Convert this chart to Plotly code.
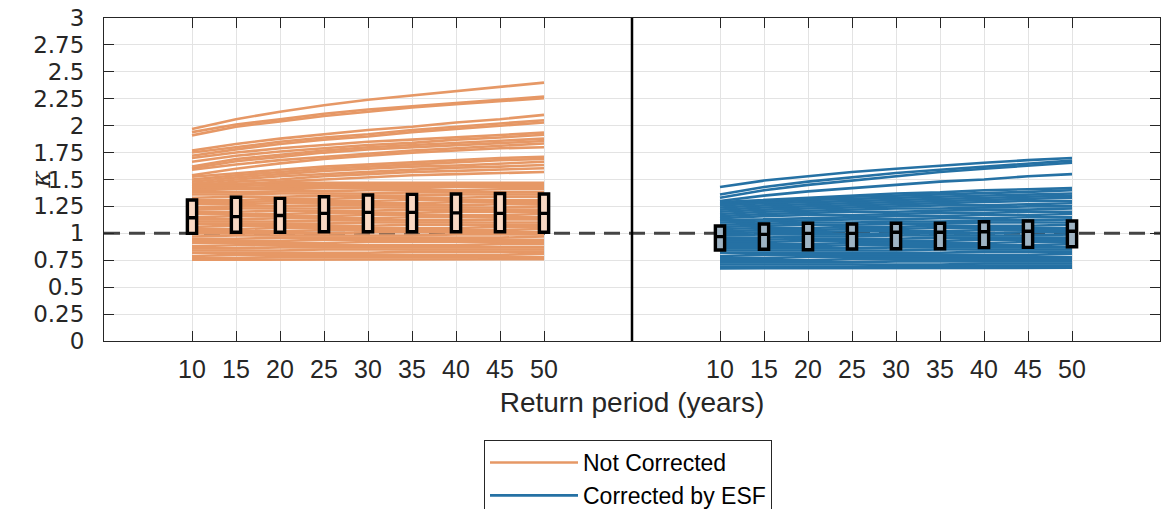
import plotly.graph_objects as go

# ---------------- data ----------------
return_periods = [10, 15, 20, 25, 30, 35, 40, 45, 50]
tick_labels = ["10", "15", "20", "25", "30", "35", "40", "45", "50"]

# Not corrected: kappa curves (one list per site)
nc_curves = [
    [1.97, 2.06, 2.13, 2.19, 2.24, 2.28, 2.32, 2.36, 2.40],
    [1.94, 2.01, 2.06, 2.11, 2.15, 2.18, 2.21, 2.24, 2.27],
    [1.91, 1.99, 2.04, 2.09, 2.13, 2.17, 2.20, 2.23, 2.255],
    [1.77, 1.83, 1.88, 1.92, 1.96, 1.99, 2.03, 2.06, 2.10],
    [1.75, 1.80, 1.85, 1.89, 1.92, 1.96, 1.99, 2.02, 2.05],
    [1.72, 1.78, 1.83, 1.87, 1.90, 1.94, 1.97, 2.00, 2.03],
    [1.70, 1.75, 1.79, 1.82, 1.85, 1.87, 1.89, 1.91, 1.935],
    [1.665, 1.72, 1.76, 1.79, 1.82, 1.84, 1.87, 1.89, 1.915],
    [1.62, 1.69, 1.73, 1.77, 1.80, 1.82, 1.84, 1.86, 1.88],
    [1.605, 1.67, 1.71, 1.75, 1.78, 1.80, 1.82, 1.84, 1.857],
    [1.59, 1.64, 1.68, 1.71, 1.74, 1.77, 1.79, 1.81, 1.835],
    [1.54, 1.60, 1.65, 1.69, 1.72, 1.75, 1.77, 1.79, 1.80],
    [1.525, 1.56, 1.59, 1.62, 1.64, 1.66, 1.68, 1.70, 1.71],
    [1.50, 1.54, 1.57, 1.60, 1.62, 1.64, 1.66, 1.68, 1.69],
    [1.48, 1.52, 1.55, 1.58, 1.60, 1.62, 1.63, 1.65, 1.665],
    [1.46, 1.50, 1.53, 1.55, 1.57, 1.59, 1.61, 1.62, 1.635],
    [1.44, 1.48, 1.50, 1.53, 1.55, 1.57, 1.58, 1.59, 1.605],
    [1.42, 1.45, 1.48, 1.50, 1.52, 1.54, 1.55, 1.56, 1.57],
    [1.46, 1.46, 1.47, 1.47, 1.47, 1.47, 1.47, 1.47, 1.47],
    [1.44, 1.44, 1.45, 1.45, 1.45, 1.46, 1.46, 1.46, 1.46],
    [1.42, 1.42, 1.43, 1.43, 1.44, 1.44, 1.44, 1.45, 1.45],
    [1.40, 1.41, 1.41, 1.42, 1.42, 1.42, 1.43, 1.43, 1.43],
    [1.38, 1.38, 1.39, 1.39, 1.40, 1.40, 1.40, 1.41, 1.41],
    [1.36, 1.36, 1.37, 1.37, 1.37, 1.38, 1.38, 1.38, 1.38],
    [1.33, 1.34, 1.34, 1.35, 1.35, 1.35, 1.36, 1.36, 1.36],
    [1.31, 1.31, 1.32, 1.32, 1.33, 1.33, 1.33, 1.34, 1.34],
    [1.29, 1.29, 1.30, 1.30, 1.30, 1.31, 1.31, 1.31, 1.31],
    [1.27, 1.27, 1.28, 1.28, 1.28, 1.28, 1.29, 1.29, 1.29],
    [1.24, 1.25, 1.25, 1.26, 1.26, 1.26, 1.26, 1.27, 1.27],
    [1.22, 1.23, 1.23, 1.23, 1.24, 1.24, 1.24, 1.24, 1.25],
    [1.20, 1.20, 1.21, 1.21, 1.21, 1.22, 1.22, 1.22, 1.22],
    [1.18, 1.18, 1.18, 1.19, 1.19, 1.19, 1.20, 1.20, 1.20],
    [1.15, 1.16, 1.16, 1.16, 1.17, 1.17, 1.17, 1.17, 1.18],
    [1.13, 1.13, 1.14, 1.14, 1.14, 1.15, 1.15, 1.15, 1.15],
    [1.11, 1.11, 1.11, 1.12, 1.12, 1.12, 1.12, 1.13, 1.13],
    [1.09, 1.09, 1.09, 1.09, 1.10, 1.10, 1.10, 1.10, 1.10],
    [1.06, 1.07, 1.07, 1.07, 1.07, 1.08, 1.08, 1.08, 1.08],
    [1.04, 1.04, 1.05, 1.05, 1.05, 1.05, 1.05, 1.06, 1.06],
    [1.02, 1.02, 1.02, 1.03, 1.03, 1.03, 1.03, 1.03, 1.04],
    [1.00, 1.00, 1.00, 1.00, 1.01, 1.01, 1.01, 1.01, 1.01],
    [0.97, 0.98, 0.98, 0.98, 0.98, 0.98, 0.99, 0.99, 0.99],
    [0.95, 0.95, 0.96, 0.96, 0.96, 0.96, 0.96, 0.96, 0.97],
    [0.93, 0.93, 0.93, 0.94, 0.94, 0.94, 0.94, 0.94, 0.94],
    [0.91, 0.91, 0.91, 0.91, 0.92, 0.92, 0.92, 0.92, 0.92],
    [0.88, 0.89, 0.89, 0.89, 0.89, 0.89, 0.89, 0.90, 0.90],
    [0.86, 0.86, 0.87, 0.87, 0.87, 0.87, 0.87, 0.87, 0.87],
    [0.84, 0.84, 0.84, 0.85, 0.85, 0.85, 0.85, 0.85, 0.85],
    [0.82, 0.82, 0.82, 0.82, 0.82, 0.83, 0.83, 0.83, 0.83],
    [0.79, 0.80, 0.80, 0.80, 0.80, 0.80, 0.80, 0.80, 0.81],
    [0.77, 0.77, 0.78, 0.78, 0.78, 0.78, 0.78, 0.78, 0.78],
    [0.755, 0.755, 0.755, 0.76, 0.76, 0.76, 0.76, 0.76, 0.76],
]

# Corrected by ESF: kappa curves
esf_curves = [
    [1.43, 1.49, 1.53, 1.57, 1.60, 1.63, 1.655, 1.68, 1.70],
    [1.36, 1.43, 1.48, 1.52, 1.56, 1.59, 1.62, 1.65, 1.675],
    [1.33, 1.40, 1.45, 1.49, 1.53, 1.57, 1.60, 1.63, 1.656],
    [1.30, 1.35, 1.39, 1.42, 1.45, 1.48, 1.50, 1.53, 1.55],
    [1.29, 1.31, 1.33, 1.35, 1.37, 1.38, 1.40, 1.41, 1.42],
    [1.28, 1.30, 1.32, 1.34, 1.35, 1.36, 1.37, 1.385, 1.40],
    [1.27, 1.29, 1.31, 1.32, 1.33, 1.34, 1.35, 1.36, 1.37],
    [1.26, 1.28, 1.29, 1.30, 1.31, 1.32, 1.33, 1.34, 1.35],
    [1.24, 1.26, 1.27, 1.28, 1.29, 1.30, 1.31, 1.32, 1.33],
    [1.22, 1.24, 1.25, 1.26, 1.27, 1.28, 1.29, 1.30, 1.30],
    [1.20, 1.22, 1.23, 1.24, 1.25, 1.26, 1.26, 1.27, 1.28],
    [1.18, 1.20, 1.21, 1.22, 1.23, 1.23, 1.24, 1.25, 1.25],
    [1.16, 1.18, 1.19, 1.20, 1.20, 1.21, 1.22, 1.22, 1.23],
    [1.14, 1.16, 1.17, 1.17, 1.18, 1.19, 1.19, 1.20, 1.20],
    [1.12, 1.13, 1.14, 1.15, 1.16, 1.16, 1.17, 1.17, 1.18],
    [1.10, 1.11, 1.12, 1.13, 1.13, 1.14, 1.14, 1.15, 1.15],
    [1.08, 1.09, 1.10, 1.10, 1.11, 1.11, 1.12, 1.12, 1.13],
    [1.06, 1.07, 1.08, 1.08, 1.09, 1.09, 1.10, 1.10, 1.10],
    [1.04, 1.05, 1.05, 1.06, 1.06, 1.07, 1.07, 1.07, 1.08],
    [1.02, 1.03, 1.03, 1.04, 1.04, 1.05, 1.05, 1.05, 1.05],
    [1.00, 1.01, 1.01, 1.02, 1.02, 1.02, 1.03, 1.03, 1.03],
    [0.98, 0.99, 0.99, 0.99, 1.00, 1.00, 1.00, 1.01, 1.01],
    [0.96, 0.96, 0.97, 0.97, 0.98, 0.98, 0.98, 0.98, 0.99],
    [0.94, 0.94, 0.95, 0.95, 0.95, 0.96, 0.96, 0.96, 0.96],
    [0.92, 0.92, 0.93, 0.93, 0.93, 0.93, 0.94, 0.94, 0.94],
    [0.90, 0.90, 0.90, 0.91, 0.91, 0.91, 0.91, 0.92, 0.92],
    [0.88, 0.88, 0.88, 0.89, 0.89, 0.89, 0.89, 0.89, 0.90],
    [0.86, 0.86, 0.86, 0.86, 0.87, 0.87, 0.87, 0.87, 0.87],
    [0.84, 0.84, 0.84, 0.84, 0.84, 0.85, 0.85, 0.85, 0.85],
    [0.82, 0.82, 0.82, 0.82, 0.82, 0.82, 0.83, 0.83, 0.83],
    [0.79, 0.80, 0.80, 0.80, 0.80, 0.80, 0.80, 0.80, 0.81],
    [0.77, 0.77, 0.78, 0.78, 0.78, 0.78, 0.78, 0.78, 0.78],
    [0.75, 0.75, 0.75, 0.76, 0.76, 0.76, 0.76, 0.76, 0.76],
    [0.73, 0.73, 0.73, 0.73, 0.74, 0.74, 0.74, 0.74, 0.74],
    [0.71, 0.71, 0.71, 0.71, 0.71, 0.71, 0.72, 0.72, 0.72],
    [0.69, 0.69, 0.69, 0.69, 0.70, 0.70, 0.70, 0.70, 0.70],
    [0.675, 0.675, 0.675, 0.675, 0.68, 0.68, 0.68, 0.68, 0.68],
]

# box statistics (q1, median, q3) per return period
nc_q1 = [1.00, 1.01, 1.01, 1.015, 1.015, 1.015, 1.015, 1.015, 1.01]
nc_med = [1.145, 1.155, 1.165, 1.185, 1.195, 1.195, 1.19, 1.185, 1.185]
nc_q3 = [1.31, 1.335, 1.325, 1.34, 1.356, 1.362, 1.365, 1.37, 1.365]

esf_q1 = [0.845, 0.852, 0.848, 0.855, 0.857, 0.857, 0.867, 0.87, 0.876]
esf_med = [0.969, 0.99, 1.0, 1.0, 1.01, 1.01, 1.015, 1.02, 1.02]
esf_q3 = [1.068, 1.087, 1.093, 1.087, 1.093, 1.093, 1.108, 1.115, 1.115]

reference_kappa = 1.0
y_ticks = [0, 0.25, 0.5, 0.75, 1, 1.25, 1.5, 1.75, 2, 2.25, 2.5, 2.75, 3]
y_tick_text = ["0", "0.25", "0.5", "0.75", "1", "1.25", "1.5", "1.75", "2",
               "2.25", "2.5", "2.75", "3"]

# ---------------- styling ----------------
ORANGE = "#E69866"
BLUE = "#2571A4"
TXT = "#262626"
FONT = "Liberation Sans, Arial, Helvetica, sans-serif"

# positions of the two groups on a shared axis
pos_nc = [i + 1 for i in range(len(return_periods))]
pos_esf = [i + 13 for i in range(len(return_periods))]
divider_pos = 11
x_range = [-1, 23]

fig = go.Figure()

# reference dashed line (below curves)
fig.add_trace(go.Scatter(
    x=x_range, y=[reference_kappa, reference_kappa], mode="lines",
    line=dict(color="#444444", width=3, dash="16px,9px"),
    showlegend=False, hoverinfo="skip"))

for k, c in enumerate(nc_curves):
    fig.add_trace(go.Scatter(
        x=pos_nc, y=c, mode="lines", line=dict(color=ORANGE, width=2.6),
        name="Not Corrected", showlegend=(k == 0)))
for k, c in enumerate(esf_curves):
    fig.add_trace(go.Scatter(
        x=pos_esf, y=c, mode="lines", line=dict(color=BLUE, width=2.6),
        name="Corrected by ESF", showlegend=(k == 0)))

# box plots on an overlaying axis pair so they are drawn above the curves
fig.add_trace(go.Box(
    x=pos_nc, q1=nc_q1, median=nc_med, q3=nc_q3,
    lowerfence=nc_q1, upperfence=nc_q3, width=0.21, whiskerwidth=0,
    fillcolor="#F9D9C4", line=dict(color="black", width=3.4),
    xaxis="x2", yaxis="y2", showlegend=False, hoverinfo="skip"))
fig.add_trace(go.Box(
    x=pos_esf, q1=esf_q1, median=esf_med, q3=esf_q3,
    lowerfence=esf_q1, upperfence=esf_q3, width=0.21, whiskerwidth=0,
    fillcolor="#9FB4C4", line=dict(color="black", width=3.4),
    xaxis="x2", yaxis="y2", showlegend=False, hoverinfo="skip"))

fig.add_shape(type="line", x0=divider_pos, x1=divider_pos, y0=0, y1=3,
              xref="x", yref="y", line=dict(color="black", width=2.5),
              layer="above")

# y-axis label (rotated italic kappa)
fig.add_annotation(text="<i>κ</i>", xref="paper", yref="paper",
                   x=(40 - 104) / 1056, y=0.5, xanchor="center", yanchor="middle",
                   textangle=-90, showarrow=False,
                   font=dict(family="DejaVu Serif, serif", size=26, color=TXT))

axis_common = dict(
    showline=True, linecolor=TXT, linewidth=1, mirror="ticks",
    ticks="inside", ticklen=10, tickcolor=TXT, tickwidth=1,
    showgrid=True, gridcolor="#E3E3E3", gridwidth=1, zeroline=False,
)

fig.update_layout(
    width=1162, height=509,
    margin=dict(l=104, r=2, t=18, b=168, autoexpand=False),
    paper_bgcolor="white", plot_bgcolor="white",
    font=dict(family=FONT, color=TXT),
    xaxis=dict(
        range=x_range, tickmode="array",
        tickvals=pos_nc + pos_esf, ticktext=tick_labels + tick_labels,
        ticklabelstandoff=6,
        tickfont=dict(family=FONT, size=25, color=TXT),
        title=dict(text="Return period (years)",
                   font=dict(family=FONT, size=28, color=TXT), standoff=10),
        **axis_common),
    yaxis=dict(
        range=[0, 3], tickmode="array", tickvals=y_ticks, ticktext=y_tick_text,
        ticklabelstandoff=14,
        tickfont=dict(family="DejaVu Sans", size=23, color=TXT),
        **axis_common),
    xaxis2=dict(range=x_range, overlaying="x", visible=False),
    yaxis2=dict(range=[0, 3], overlaying="y", visible=False),
    legend=dict(
        x=(484 - 104) / 1056, y=(341 - 440) / 323, xanchor="left", yanchor="top",
        bgcolor="white", bordercolor=TXT, borderwidth=1,
        font=dict(family=FONT, size=23, color="black"),
        itemwidth=88, tracegroupgap=0),
    showlegend=True,
)

fig.write_html("out.html")
